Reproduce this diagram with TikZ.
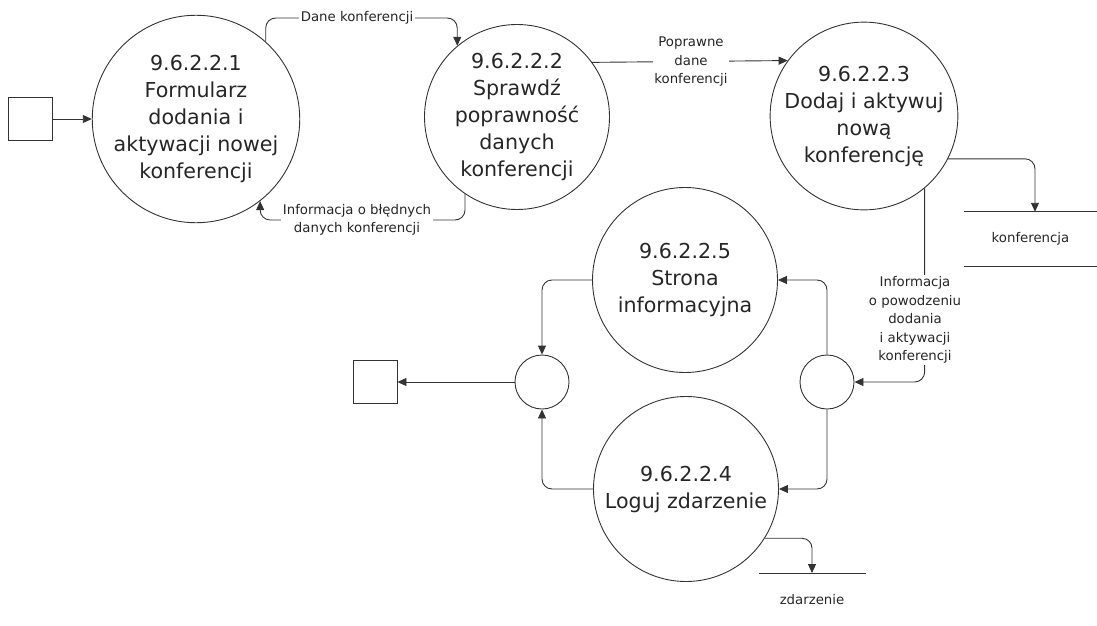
\documentclass[tikz,border=0pt]{standalone}
\usepackage{fontspec}
\setmainfont{DejaVu Sans}
\usetikzlibrary{arrows.meta,calc}
\begin{document}
\begin{tikzpicture}[x=1pt,y=-1pt,
  proc/.style={draw=black!80, line width=0.9pt, circle, minimum size=185pt, inner sep=0pt, align=center, font=\fontsize{20.6}{27}\selectfont, text=black!85},
  junction/.style={draw=black!80, line width=0.9pt, circle, minimum size=54pt, inner sep=0pt},
  ext/.style={draw=black!80, line width=0.9pt, minimum width=44pt, minimum height=43pt, inner sep=0pt},
  flow/.style={draw=black!80, line width=0.9pt, rounded corners=10pt, -{Triangle[length=9pt,width=8pt]}},
  seg/.style={draw=black!80, line width=0.9pt},
  lbl/.style={fill=white, align=center, inner sep=1.5pt, font=\fontsize{13.3}{18.5}\selectfont, text=black!85},
  storetext/.style={font=\fontsize{13.3}{18.5}\selectfont, text=black!85, inner sep=0pt},
]
\useasboundingbox (0,0) rectangle (1097,626);

% external entities
\node[ext] (b1) at (30,119) {};
\node[ext] (b2) at (375,382) {};

% processes
\node[proc] (c1) at (196,119) {9.6.2.2.1\\Formularz\\dodania i\\aktywacji nowej\\konferencji};
\node[proc] (c2) at (517,117) {9.6.2.2.2\\Sprawdź\\poprawność\\danych\\konferencji};
\node[proc] (c3) at (864,116) {9.6.2.2.3\\Dodaj i aktywuj\\nową\\konferencję};
\node[proc] (c5) at (685,280) {9.6.2.2.5\\Strona\\informacyjna};
\node[proc] (c4) at (686,489) {9.6.2.2.4\\Loguj zdarzenie};

% junctions
\node[junction] (sl) at (542,382) {};
\node[junction] (sr) at (827,382) {};

% data stores
\node[storetext, minimum width=133pt, minimum height=54pt] (kst) at (1030.5,239) {konferencja};
\draw[seg] (kst.north west) -- (kst.north east) (kst.south west) -- (kst.south east);
\coordinate (kin) at ($(kst.north)+(4.5,0)$);
\node[storetext] (zst) at (812,600) {zdarzenie};
\coordinate (zl) at (759,573);
\coordinate (zr) at (866,573);
\draw[seg] (zl) -- (zr);

% helper coordinates for label positions
\coordinate (dk) at (357,18);
\coordinate (ib) at (357,220);

% flows
\draw[flow] (b1.east) -- (c1.west);
\draw[flow] (c1.48) -- (c1.48 |- dk) -- (c2.130 |- dk) -- (c2.130);
\draw[flow] (c2.236) -- (c2.236 |- ib) -- (c1.-52 |- ib) -- (c1.-52);
\draw[flow] (c2.36) -- (c3.144);
\draw[flow] (c3.-27) -| (kin);
\draw[flow] (c3.-50) |- (sr.east);
\draw[flow] (sr.north) |- (c5.east);
\draw[flow] (sr.south) |- (c4.east);
\draw[flow] (c5.west) -| (sl.north);
\draw[flow] (c4.west) -| (sl.south);
\draw[flow] (sl.west) -- (b2.east);
\draw[flow] (c4.-32) -| (zst.north |- zl);

% flow labels
\node[lbl] (ldk) at (dk) {Dane konferencji};
\node[lbl] (lib) at (ib) {Informacja o błędnych\\danych konferencji};
\node[lbl] (lpd) at (691,62) {Poprawne\\dane\\konferencji};
\node[lbl] (lip) at (915,320) {Informacja\\o powodzeniu\\dodania\\i aktywacji\\konferencji};
\end{tikzpicture}
\end{document}
